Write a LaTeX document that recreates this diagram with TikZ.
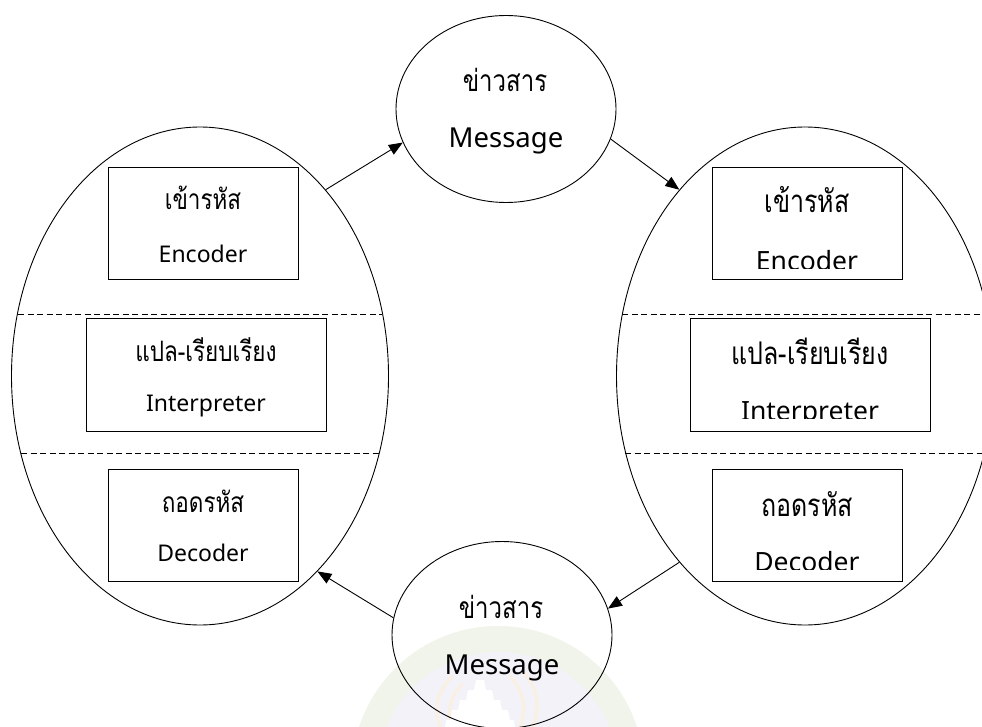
\documentclass[tikz,border=0pt]{standalone}
\usepackage{fontspec}
\setmainfont{Noto Sans}
\newfontfamily\thai[Script=Thai]{Loma}
\usetikzlibrary{shapes.geometric,arrows.meta,calc}

\definecolor{wmgreen}{HTML}{F0F4EA}
\definecolor{wmlav}{HTML}{F3F2F8}
\definecolor{wmflame}{HTML}{FAF0E2}

% Thai lines are set a little taller than the font draws them
\newcommand{\tallthai}[1]{\scalebox{1}[1.25]{#1}}

\tikzset{
  lobe/.style={draw, ellipse, line width=0.9pt, inner sep=0pt, minimum width=377pt, minimum height=498pt},
  msg/.style={draw, ellipse, line width=0.9pt, inner sep=0pt, minimum width=220pt, minimum height=187pt},
  box/.style={draw, rectangle, line width=0.9pt, inner sep=0pt, minimum height=112pt},
  divider/.style={line width=0.8pt, dash pattern=on 6pt off 3.5pt},
  flow/.style={line width=0.9pt, -{Triangle[length=14pt,width=11pt]}},
  txt/.style={anchor=base, inner sep=0pt},
  thaiA/.style={txt, font={\thai\fontsize{22.5pt}{26pt}\selectfont}},
  latA/.style={txt, font={\fontsize{23pt}{27pt}\selectfont}},
  thaiB/.style={txt, font={\thai\fontsize{25pt}{29pt}\selectfont}},
  latB/.style={txt, font={\fontsize{26.5pt}{30pt}\selectfont}},
  thaiM/.style={txt, font={\thai\fontsize{24pt}{28pt}\selectfont}},
  latM/.style={txt, font={\fontsize{27.5pt}{32pt}\selectfont}},
  flame/.style={draw=wmflame, line width=3pt, line cap=round},
}

\begin{document}
\begin{tikzpicture}[x=1pt, y=-1pt]
\useasboundingbox (0,0) rectangle (982,727);

% faint seal behind the lower message
\fill[wmgreen] (498,772) circle (146);
\fill[wmlav] (498,772) circle (120);
\draw[flame] (440,727) .. controls (432,705) and (440,690) .. (452,676);
\draw[flame] (452,727) .. controls (446,708) and (452,695) .. (462,684);
\draw[flame] (520,727) .. controls (528,705) and (522,690) .. (510,676);
\draw[flame] (532,727) .. controls (542,705) and (536,688) .. (524,672);
\fill[white] (476,680) -- (484,680) -- (486,690) -- (492,690) -- (494,700)
  -- (500,700) -- (502,710) -- (508,710) -- (510,720) -- (514,720) -- (515,727)
  -- (445,727) -- (446,720) -- (450,720) -- (452,710) -- (458,710) -- (460,700)
  -- (466,700) -- (468,690) -- (474,690) -- cycle;

% sender / receiver lobes
\node[lobe] (L) at (200,376) {};
\node[lobe] (R) at (805,376) {};

% message bubbles
\node[msg] (Mtop) at (506,109) {};
\node[msg] (Mbot) at (502,635) {};

% layer dividers
\draw[divider] (18,314) -- (382,314);
\draw[divider] (21,453) -- (379,453);
\draw[divider] (622,314) -- (982,314);
\draw[divider] (625,453) -- (982,453);

% left stack
\node[box, minimum width=190pt] (Lenc) at (203,223) {};
\node[box, minimum width=240pt, minimum height=113pt] (Lint) at (206,374.5) {};
\node[box, minimum width=190pt] (Ldec) at (203,525) {};

\node[thaiA] (LencT) at ($(Lenc.north)+(0,43)$) {\tallthai{เข้ารหัส}};
\node[latA]  (LencE) at ($(Lenc.north)+(0,96)$) {Encoder};
\node[thaiA] (LintT) at ($(Lint.north)+(0,44)$) {\tallthai{แปล-เรียบเรียง}};
\node[latA]  (LintE) at ($(Lint.north)+(0,94)$) {Interpreter};
\node[thaiA] (LdecT) at ($(Ldec.north)+(0,44)$) {\tallthai{ถอดรหัส}};
\node[latA]  (LdecE) at ($(Ldec.north)+(0,93)$) {Decoder};

% right stack
\node[box, minimum width=190pt] (Renc) at (807,223) {};
\node[box, minimum width=240pt, minimum height=113pt] (Rint) at (810,374.5) {};
\node[box, minimum width=190pt] (Rdec) at (807,525) {};

\node[thaiB] (RencT) at ($(Renc.north)+(0,46)$) {\tallthai{เข้ารหัส}};
\node[thaiB] (RintT) at ($(Rint.north)+(0,47)$) {\tallthai{แปล-เรียบเรียง}};
\node[thaiB] (RdecT) at ($(Rdec.north)+(0,48)$) {\tallthai{ถอดรหัส}};
\begin{scope}
  \clip ($(Renc.north west)+(0,60)$) rectangle ($(Renc.north east)+(0,102)$);
  \node[latB] (RencE) at ($(Renc.north)+(0,104)$) {Encoder};
\end{scope}
\begin{scope}
  \clip ($(Rint.north west)+(0,60)$) rectangle ($(Rint.north east)+(0,101)$);
  \node[latB] (RintE) at ($(Rint.north)+(0,103)$) {Interpreter};
\end{scope}
\begin{scope}
  \clip ($(Rdec.north west)+(0,60)$) rectangle ($(Rdec.north east)+(0,101)$);
  \node[latB] (RdecE) at ($(Rdec.north)+(0,103)$) {Decoder};
\end{scope}

% message texts
\node[thaiM] (MtopT) at ($(Mtop.center)+(-1,-17)$) {\tallthai{ข่าวสาร}};
\node[latM]  (MtopE) at ($(Mtop.center)+(0,39)$) {Message};
\node[thaiM] (MbotT) at ($(Mbot.center)+(-1,-17)$) {\tallthai{ข่าวสาร}};
\node[latM]  (MbotE) at ($(Mbot.center)+(0,39)$) {Message};

% flow of the message around the loop
\draw[flow] (L.56) -- (Mtop.198);
\draw[flow] (Mtop.-16) -- (R.124);
\draw[flow] (R.236) -- (Mbot.14);
\draw[flow] (Mbot.171) -- (L.-59);
\end{tikzpicture}
\end{document}
